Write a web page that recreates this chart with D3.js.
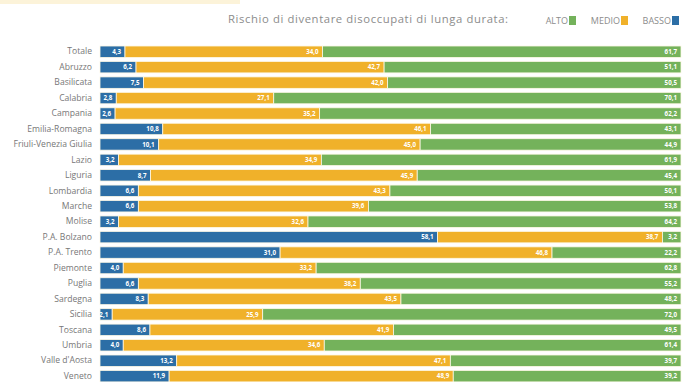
<!DOCTYPE html>
<html>
<head>
<meta charset="utf-8">
<script src="https://cdn.jsdelivr.net/npm/d3@7"></script>
<style>
  html, body { margin: 0; padding: 0; background: #ffffff; }
  svg { display: block; }
</style>
</head>
<body>
<svg id="chart" width="685" height="382"></svg>
<script>
// Regions and share of workers by risk of becoming long-term unemployed (%)
const regions = ["Totale", "Abruzzo", "Basilicata", "Calabria", "Campania", "Emilia-Romagna",
  "Friuli-Venezia Giulia", "Lazio", "Liguria", "Lombardia", "Marche", "Molise", "P.A. Bolzano",
  "P.A. Trento", "Piemonte", "Puglia", "Sardegna", "Sicilia", "Toscana", "Umbria",
  "Valle d'Aosta", "Veneto"];
const basso = [4.3, 6.2, 7.5, 2.8, 2.6, 10.8, 10.1, 3.2, 8.7, 6.6, 6.6, 3.2, 58.1, 31.0, 4.0, 6.6, 8.3, 2.1, 8.6, 4.0, 13.2, 11.9];
const medio = [34.0, 42.7, 42.0, 27.1, 35.2, 46.1, 45.0, 34.9, 45.9, 43.3, 39.6, 32.6, 38.7, 46.8, 33.2, 38.2, 43.5, 25.9, 41.9, 34.6, 47.1, 48.9];
const alto  = [61.7, 51.1, 50.5, 70.1, 62.2, 43.1, 44.9, 61.9, 45.4, 50.1, 53.8, 64.2, 3.2, 22.2, 62.8, 55.2, 48.2, 72.0, 49.5, 61.4, 39.7, 39.2];
const seriesKeys = ["basso", "medio", "alto"];
const legendLabels = ["ALTO", "MEDIO", "BASSO"];
const titleText = "Rischio di diventare disoccupati di lunga durata:";

const colors = { basso: "#2c6ea6", medio: "#f0b12a", alto: "#74b25b" };

const rows = regions.map((r, i) => ({ region: r, basso: basso[i], medio: medio[i], alto: alto[i] }));

const svg = d3.select("#chart");
const margin = { left: 100, right: 4, top: 44 };
const width = 685;

const x = d3.scaleLinear().domain([0, 100]).range([margin.left, width - margin.right]);
const y = d3.scaleBand().domain(regions).range([margin.top, margin.top + regions.length * 15.45]).paddingInner(0.26).paddingOuter(0.13);

const stacked = d3.stack().keys(seriesKeys)(rows);
const fontFam = "'Open Sans', 'Noto Sans', sans-serif";

// faint band left over from the heading strip at the top edge
svg.append("rect")
  .attr("x", 0).attr("y", 0)
  .attr("width", 240).attr("height", 4)
  .attr("fill", "#f9e7b4")
  .attr("opacity", 0.5);

// legend
svg.append("text")
  .attr("x", 228).attr("y", 23)
  .attr("font-family", fontFam)
  .attr("font-size", 11.3)
  .attr("fill", "#8c8c8c")
  .attr("textLength", 280)
  .text(titleText);

const legendColor = { ALTO: colors.alto, MEDIO: colors.medio, BASSO: colors.basso };
const legendSq = { ALTO: 569, MEDIO: 621, BASSO: 672 };
legendLabels.forEach(l => {
  svg.append("text")
    .attr("x", legendSq[l] - 1).attr("y", 23.5)
    .attr("text-anchor", "end")
    .attr("font-family", fontFam)
    .attr("font-size", 9)
    .attr("fill", "#8c8c8c")
    .text(l);
  svg.append("rect")
    .attr("x", legendSq[l]).attr("y", 16)
    .attr("width", 7).attr("height", 9)
    .attr("fill", legendColor[l]);
});

// category axis
const gy = svg.append("g")
  .attr("transform", `translate(${margin.left - 8},0)`)
  .call(d3.axisLeft(y).tickSize(0).tickPadding(0));
gy.select(".domain").remove();
gy.selectAll("text")
  .attr("font-family", fontFam)
  .attr("font-size", 8.6)
  .attr("fill", "#777777");

// stacked bars
const layers = svg.append("g").selectAll("g")
  .data(stacked)
  .join("g")
  .attr("fill", d => colors[d.key]);

layers.selectAll("rect")
  .data(d => d.map(v => ({ v, key: d.key })))
  .join("rect")
  .attr("x", d => x(d.v[0]))
  .attr("y", d => y(d.v.data.region))
  .attr("width", d => x(d.v[1]) - x(d.v[0]))
  .attr("height", y.bandwidth())
  .attr("stroke", "#fdf8e6")
  .attr("stroke-width", 0.8);

// value labels inside each segment
const fmt = v => d3.format(".1f")(v).replace(".", ",");
layers.selectAll("text")
  .data(d => d.map(v => ({ v, key: d.key })))
  .join("text")
  .attr("x", d => x(d.v[1]) - 4)
  .attr("y", d => y(d.v.data.region) + y.bandwidth() / 2 + 2.2)
  .attr("text-anchor", "end")
  .attr("font-family", fontFam)
  .attr("font-size", 6.2)
  .attr("font-weight", 700)
  .attr("fill", "#ffffff")
  .text(d => fmt(d.v.data[d.key]));
</script>
</body>
</html>
